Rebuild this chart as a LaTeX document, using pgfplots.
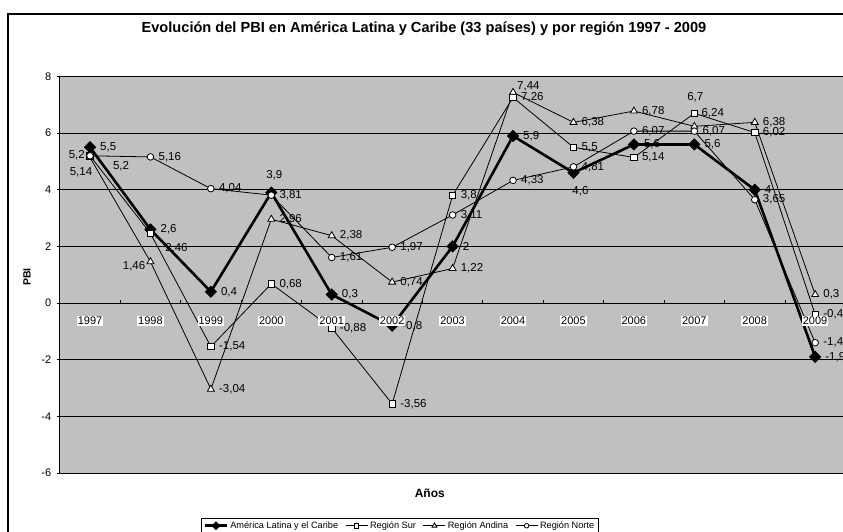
\documentclass[border=0pt]{standalone}
\usepackage{fontspec}
\setmainfont{Liberation Sans}
\usepackage{pgfplots}
\usepackage{pgfplotstable}
\pgfplotsset{compat=1.18}
\definecolor{fondo}{HTML}{C0C0C0}

\newcommand\tickfont{\fontsize{11}{13}\selectfont}
\newcommand\etiqfont{\fontsize{11.5}{13}\selectfont}
\newcommand\titfont{\bfseries\fontsize{14.6}{17}\selectfont}

% x y etiqueta
\pgfplotstableread{
x y l
1997 5.5 5,5
1998 2.6 2,6
1999 0.4 0,4
2000 3.9 3,9
2001 0.3 0,3
2002 -0.8 -0,8
2003 2 2
2004 5.9 5,9
2005 4.6 4,6
2006 5.6 5,6
2007 5.6 5,6
2008 4 4
2009 -1.9 -1,9
}\alc

\pgfplotstableread{
x y l
1997 5.2 5,2
1998 2.46 2,46
1999 -1.54 -1,54
2000 0.68 0,68
2001 -0.88 -0,88
2002 -3.56 -3,56
2003 3.8 3,8
2004 7.26 7,26
2005 5.5 5,5
2006 5.14 5,14
2007 6.7 6,7
2008 6.02 6,02
2009 -0.4 -0,4
}\sur

\pgfplotstableread{
x y l
1997 5.14 5,14
1998 1.46 1,46
1999 -3.04 -3,04
2000 2.96 2,96
2001 2.38 2,38
2002 0.74 0,74
2003 1.22 1,22
2004 7.44 7,44
2005 6.38 6,38
2006 6.78 6,78
2007 6.24 6,24
2008 6.38 6,38
2009 0.3 0,3
}\andina

\pgfplotstableread{
x y l
1997 5.2 5,2
1998 5.16 5,16
1999 4.04 4,04
2000 3.81 3,81
2001 1.61 1,61
2002 1.97 1,97
2003 3.11 3,11
2004 4.33 4,33
2005 4.81 4,81
2006 6.07 6,07
2007 6.07 6,07
2008 3.65 3,65
2009 -1.4 -1,4
}\norte

\pgfplotsset{
  lbl/.style n args={3}{draw=none, mark=none, forget plot,
    nodes near coords, point meta=explicit symbolic,
    every node near coord/.append style={anchor=#1, xshift=#2pt,
      yshift=#3pt, inner sep=0pt, font=\etiqfont, text=black}},
  caja/.style={at={(59.8pt,59pt)}, anchor=south west, scale only axis,
    width=785.6pt, height=396.5pt,
    xmin=1996.5, xmax=2009.5, ymin=-6, ymax=8}
}

\begin{document}
\begin{tikzpicture}
\useasboundingbox (0,0) rectangle (843pt,532pt);
\clip (0,0) rectangle (843pt,532pt);
\fill[white] (0,0) rectangle (843pt,532pt);
\draw[line width=1.3pt] (8pt,-30pt) rectangle (900pt,518pt);

\begin{axis}[caja,
  axis background/.style={fill=fondo},
  axis line style={black, line width=0.8pt},
  xtick=\empty, ytick={-6,-4,...,8}, ymajorgrids,
  grid style={black, line width=0.6pt},
  tick align=outside, major tick length=3pt,
  tick style={black, line width=0.8pt}, ytick pos=left,
  yticklabel style={font=\tickfont, /pgf/number format/assume math mode=true, xshift=-2pt},
  title={Evolución del PBI en América Latina y Caribe (33 países) y por región 1997 - 2009},
  title style={at={(axis description cs:0.4636,1.1047)}, anchor=center, font=\titfont},
  xlabel={Años},
  xlabel style={at={(axis description cs:0.471,-0.0504)}, anchor=center, font=\bfseries\fontsize{12}{14}\selectfont},
  ylabel={PBI},
  ylabel style={at={(axis description cs:-0.0418,0.494)}, anchor=center, rotate=0, font=\bfseries\fontsize{10.5}{12}\selectfont},
  legend columns=4,
  legend style={at={(axis description cs:0.433,-0.114)}, anchor=north,
    draw=black, line width=0.8pt, fill=white, font=\fontsize{9.2}{11}\selectfont,
    inner xsep=2pt, inner ysep=1pt,
    /tikz/every even column/.append style={column sep=5pt}},
  legend image code/.code={\draw[mark repeat=2, mark phase=2, #1,
    every mark/.append style={scale=0.7}]
    plot coordinates {(0pt,0pt) (11pt,0pt) (22pt,0pt)};},
]
\addplot[black, line width=2.6pt, mark=square*, mark size=4.1pt,
  mark options={rotate=45, solid, line width=0.4pt, fill=black}]
  table[x=x, y=y]{\alc};
\addlegendentry{América Latina y el Caribe}
\addplot[black, line width=0.8pt, mark=square*, mark size=3.2pt,
  mark options={solid, line width=0.8pt, fill=white}]
  table[x=x, y=y]{\sur};
\addlegendentry{Región Sur}
\addplot[black, line width=0.8pt, mark=triangle*, mark size=4pt,
  mark options={solid, line width=0.8pt, fill=white}]
  table[x=x, y=y]{\andina};
\addlegendentry{Región Andina}
\addplot[black, line width=0.8pt, mark=*, mark size=3.3pt,
  mark options={solid, line width=0.8pt, fill=white}]
  table[x=x, y=y]{\norte};
\addlegendentry{Región Norte}

% rótulos de datos, a la derecha del punto
\addplot[lbl={west}{10}{0}, skip coords between index={3}{4},
  skip coords between index={8}{9}] table[x=x, y=y, meta=l]{\alc};
\addplot[lbl={west}{8}{0}, skip coords between index={0}{2},
  skip coords between index={10}{11}] table[x=x, y=y, meta=l]{\sur};
\addplot[lbl={west}{8}{0}, skip coords between index={0}{2},
  skip coords between index={7}{8}, skip coords between index={10}{11}]
  table[x=x, y=y, meta=l]{\andina};
\addplot[lbl={west}{8}{0}, skip coords between index={0}{1}]
  table[x=x, y=y, meta=l]{\norte};
% rótulos desplazados
\addplot[lbl={center}{3}{17}] coordinates {(2000,3.9) [3,9]};
\addplot[lbl={center}{7}{-18}] coordinates {(2005,4.6) [4,6]};
\addplot[lbl={east}{-5}{1}] coordinates {(1997,5.2) [5,2]};
\addplot[lbl={center}{26}{-15}] coordinates {(1998,2.46) [2,46]};
\addplot[lbl={center}{1}{16}] coordinates {(2007,6.7) [6,7]};
\addplot[lbl={center}{-9}{-15}] coordinates {(1997,5.14) [5,14]};
\addplot[lbl={east}{-5}{-5}] coordinates {(1998,1.46) [1,46]};
\addplot[lbl={west}{4}{6}] coordinates {(2004,7.44) [7,44]};
\addplot[lbl={west}{7}{13}] coordinates {(2007,6.24) [6,24]};
\addplot[lbl={center}{31}{-10}] coordinates {(1997,5.2) [5,2]};
\end{axis}

\begin{axis}[caja,
  axis x line=middle, axis y line=none,
  axis line style={-, black, line width=0.8pt},
  hide obscured x ticks=false,
  xtick={1997,...,2009},
  xticklabels={1997,1998,1999,2000,2001,2002,2003,2004,2005,2006,2007,2008,2009},
  major tick length=0pt,
  minor xtick={1997.5,1998.5,...,2008.5}, minor tick length=3pt,
  tick align=inside, tick style={black, line width=0.8pt},
  xticklabel style={fill=white, inner sep=1pt, anchor=center, yshift=-18pt, font=\tickfont},
  ytick=\empty]
\addplot[draw=none] coordinates {(1997,0)};
\end{axis}
\end{tikzpicture}
\end{document}
